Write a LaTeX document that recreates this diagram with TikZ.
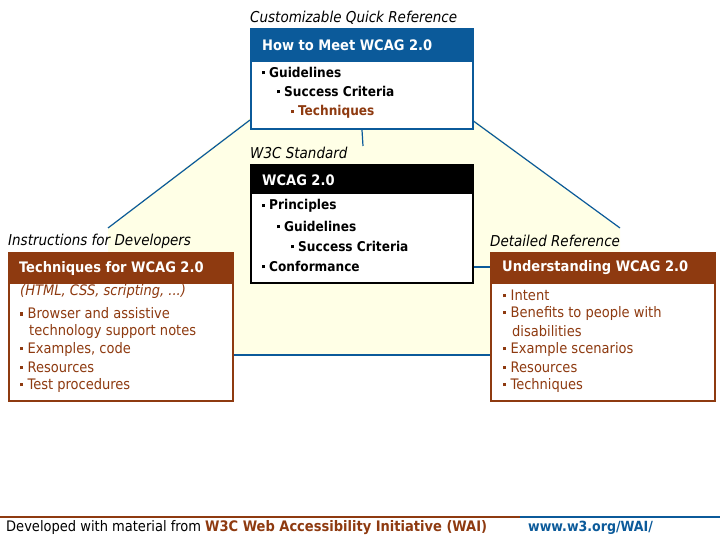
\documentclass[tikz,border=0pt]{standalone}
\usepackage{fontspec}
\setmainfont{DejaVu Sans Condensed}
\definecolor{wblue}{HTML}{0B5A9A}
\definecolor{wbrown}{HTML}{8E3A10}
\definecolor{wyel}{HTML}{FFFFE6}
\newcommand{\bul}{\rule[0.2em]{0.22em}{0.22em}\hspace{0.3em}}
\begin{document}
\begin{tikzpicture}[x=1pt,y=-1pt,
  box/.style={draw=#1,line width=2pt,fill=white},
  head/.style={fill=#1,draw=#1,line width=2pt},
  htext/.style={anchor=west,text=white,font=\bfseries\fontsize{14.5}{16}\selectfont,inner sep=0pt},
  lab/.style={anchor=west,font=\itshape\fontsize{15}{17}\selectfont,inner sep=0pt},
  item/.style={anchor=west,font=\fontsize{14.5}{16}\selectfont,inner sep=0pt},
  bitem/.style={anchor=west,font=\bfseries\fontsize{13.5}{15}\selectfont,inner sep=0pt},
  conn/.style={draw=wblue,line width=1.2pt}]
\useasboundingbox (0,0) rectangle (720,540);
\fill[wyel] (108,227) -- (250,118) -- (472,118) -- (620,228) -- (620,355) -- (108,355) -- cycle;
\coordinate (tl) at (250,120); \coordinate (dl) at (108,228);
\coordinate (tr) at (472,120); \coordinate (dr) at (620,228);
\draw[conn] (tl) -- (dl); \draw[conn] (tr) -- (dr);
% top box
\node[box=wblue,minimum width=222,minimum height=100,anchor=north west,inner sep=0] (top) at (250,28) {};
\node[head=wblue,minimum width=222,minimum height=32,anchor=north west,inner sep=0] (toph) at (250,28) {};
\node[htext] (topt) at (262,45) {How to Meet WCAG 2.0};
\node[lab] (topl) at (250,18) {Customizable Quick Reference};
\node[bitem] (t1) at (262,72) {\bul Guidelines};
\node[bitem] (t2) at (277,91) {\bul Success Criteria};
\node[bitem,text=wbrown] (t3) at (291,112) {\bul Techniques};
% middle box
\node[box=black,minimum width=222,minimum height=118,anchor=north west,inner sep=0] (mid) at (250,164) {};
\node[head=black,minimum width=222,minimum height=28,anchor=north west,inner sep=0] (midh) at (250,164) {};
\node[htext] (midt) at (262,180) {WCAG 2.0};
\node[lab] (midl) at (250,153) {W3C Standard};
\coordinate (mc) at (363,146);
\draw[conn] (top.south) -- (mc);
\node[bitem] (m1) at (262,206) {\bul Principles};
\node[bitem] (m2) at (277,226) {\bul Guidelines};
\node[bitem] (m3) at (291,246) {\bul Success Criteria};
\node[bitem] (m4) at (262,266) {\bul Conformance};
% left box
\node[box=wbrown,minimum width=224,minimum height=148,anchor=north west,inner sep=0] (lb) at (8,252) {};
\node[head=wbrown,minimum width=224,minimum height=30,anchor=north west,inner sep=0] (lbh) at (8,252) {};
\node[htext] (lbt) at (19,268) {Techniques for WCAG 2.0};
\node[lab] (lbl) at (8,241) {Instructions for Developers};
\node[item,font=\itshape\fontsize{14.5}{16}\selectfont,text=wbrown] (l0) at (20,291) {(HTML, CSS, scripting, ...)};
\begin{scope}[every node/.style={item,text=wbrown}]
\node (l1) at (20,313) {\bul Browser and assistive};
\node (l1b) at (29,331) {technology support notes};
\node (l2) at (20,349) {\bul Examples, code};
\node (l3) at (20,367) {\bul Resources};
\node (l4) at (20,385) {\bul Test procedures};
\end{scope}
% right box
\node[box=wbrown,minimum width=224,minimum height=148,anchor=north west,inner sep=0] (rb) at (490,252) {};
\node[head=wbrown,minimum width=224,minimum height=30,anchor=north west,inner sep=0] (rbh) at (490,252) {};
\node[htext] (rbt) at (502,268) {Understanding WCAG 2.0};
\node[lab] (rbl) at (490,241) {Detailed Reference};
\begin{scope}[every node/.style={item,text=wbrown}]
\node (r1) at (503,295) {\bul Intent};
\node (r2) at (503,313) {\bul Benefits to people with};
\node (r2b) at (512,331) {disabilities};
\node (r3) at (503,349) {\bul Example scenarios};
\node (r4) at (503,367) {\bul Resources};
\node (r5) at (503,385) {\bul Techniques};
\end{scope}
\draw[conn] (lb.east |- 0,355) -- (rb.west |- 0,355);
\draw[conn] (mid.east |- 0,267) -- (rb.west |- 0,267);
% footer
\draw[wbrown,line width=2.5pt] (0,517) -- (520,517);
\draw[wblue,line width=2.5pt] (520,517) -- (720,517);
\node[anchor=west,inner sep=0,font=\fontsize{14.5}{16}\selectfont] (f1) at (6,528)
  {Developed with material from \textcolor{wbrown}{\bfseries W3C Web Accessibility Initiative (WAI)}};
\node[anchor=west,inner sep=0,font=\bfseries\fontsize{14}{16}\selectfont,text=wblue] (f2) at (528,528) {www.w3.org/WAI/};
\end{tikzpicture}
\end{document}
